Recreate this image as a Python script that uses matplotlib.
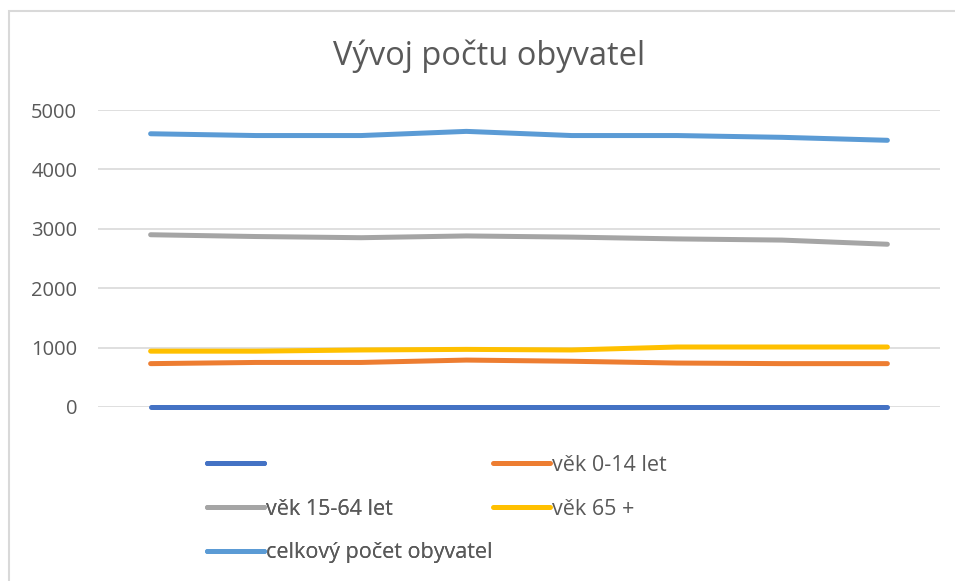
import numpy as np
import matplotlib
matplotlib.use("Agg")
import matplotlib.pyplot as plt
from matplotlib.patches import Rectangle

plt.rcParams['font.family'] = ['Open Sans', 'DejaVu Sans']

# data (8 years, no x labels shown)
years = np.arange(8)
s_blank = [0, 0, 0, 0, 0, 0, 0, 0]
vek_0_14 = [730, 750, 750, 790, 770, 740, 730, 730]
vek_15_64 = [2900, 2870, 2850, 2880, 2860, 2830, 2810, 2740]
vek_65 = [940, 940, 960, 970, 960, 1010, 1010, 1010]
celkem = [4600, 4570, 4570, 4640, 4570, 4570, 4540, 4490]

labels = ['', 'věk 0-14 let', 'věk 15-64 let', 'věk 65 +', 'celkový počet obyvatel']
colors = ['#4472c4', '#ed7d31', '#a5a5a5', '#ffc000', '#5b9bd5']
txt = '#595959'

W, H = 955, 581
fig = plt.figure(figsize=(W/100, H/100), dpi=100)
ax = fig.add_axes([98/W, (H-407)/H, (940-98)/W, (407-110)/H])

series = [s_blank, vek_0_14, vek_15_64, vek_65, celkem]
lines = []
for vals, c, lab in zip(series, colors, labels):
    ln, = ax.plot(years, vals, color=c, lw=3.6, solid_capstyle='round',
                  solid_joinstyle='round', label=lab, zorder=3, clip_on=False)
    lines.append(ln)

ax.set_xlim(-0.5, 7.5)
ax.set_ylim(0, 5000)
ax.set_yticks(np.arange(0, 5001, 1000))
ax.set_xticks([])
ax.grid(axis='y', color='#d9d9d9', lw=1.2, zorder=0)
for sp in ax.spines.values():
    sp.set_visible(False)
ax.tick_params(axis='y', length=0, pad=15, labelsize=14.5, labelcolor=txt)

fig.text(489/W, 1-56/H, 'Vývoj počtu obyvatel', ha='center', va='center',
         fontsize=23.5, color=txt)

# legend laid out like Excel: two columns, filled row by row
kw = dict(frameon=False, fontsize=15.5, labelcolor=txt, handlelength=2.65,
          handletextpad=0.08, labelspacing=1.05, borderpad=0, borderaxespad=0,
          loc='upper left')
leg1 = fig.legend([lines[0], lines[2], lines[4]], [labels[0], labels[2], labels[4]],
                  bbox_to_anchor=(207/W, 1-455/H), **kw)
fig.add_artist(leg1)
fig.legend([lines[1], lines[3]], [labels[1], labels[3]],
           bbox_to_anchor=(493/W, 1-455/H), **kw)

fig.add_artist(Rectangle((9/W, -0.1), 1.2, 1-11/H+0.1, transform=fig.transFigure,
                         fill=False, edgecolor='#d9d9d9', lw=1.5))

fig.savefig('out.png', dpi=100, facecolor='white')
